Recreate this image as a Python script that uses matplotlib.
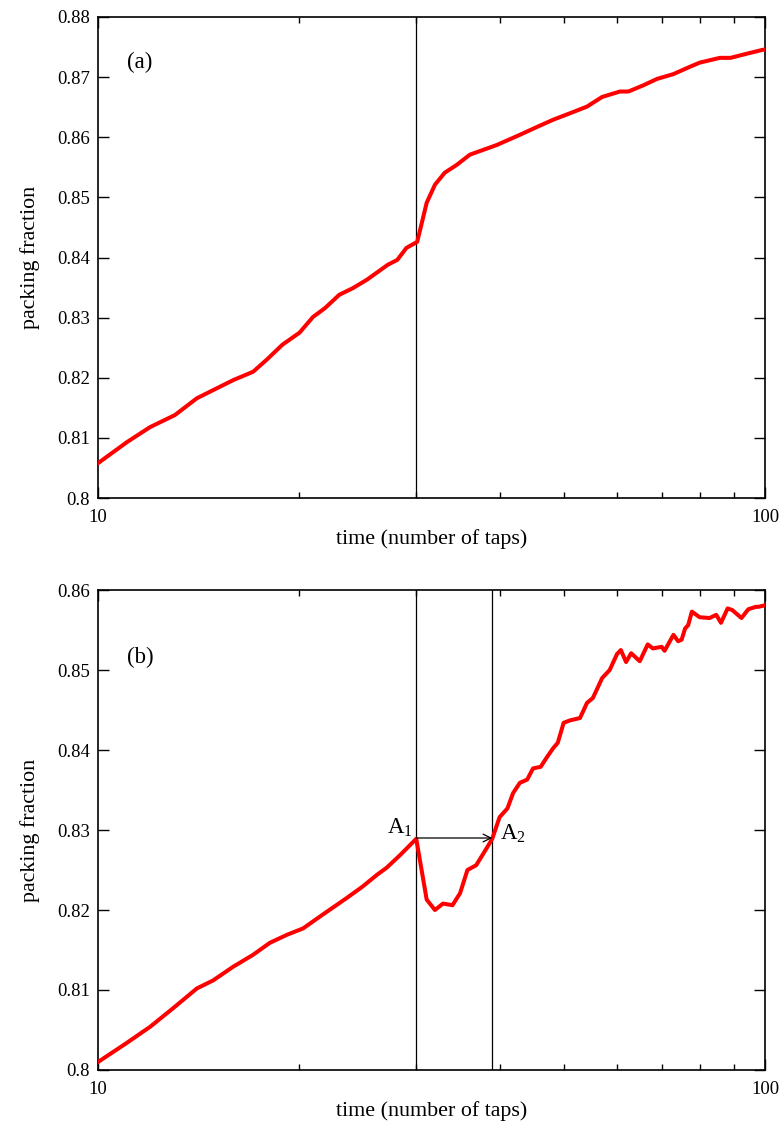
import matplotlib
matplotlib.use("Agg")
import matplotlib.pyplot as plt
from matplotlib.ticker import FixedLocator, NullFormatter, FuncFormatter

plt.rcParams["font.family"] = ["Liberation Serif", "DejaVu Serif"]
plt.rcParams["mathtext.fontset"] = "custom"
plt.rcParams["mathtext.rm"] = "Liberation Serif"
plt.rcParams["mathtext.it"] = "Liberation Serif:italic"

# panel (a): packing fraction vs taps
t_a = [10.0, 11.05, 11.97, 13.04, 14.07, 15.94, 17.08, 17.9, 18.9, 20.05,
       21.0, 21.9, 23.0, 24.1, 25.3, 26.5, 27.2, 28.1, 29.0, 30.1,
       31.1, 32.0, 33.1, 34.5, 36.1, 39.6, 42.9, 45.5, 48.1, 51.6,
       54.1, 57.0, 60.6, 62.4, 65.6, 68.9, 72.9, 77.1, 79.8, 85.6,
       88.8, 94.0, 98.9, 100.0]
phi_a = [0.8058, 0.8093, 0.8118, 0.8138, 0.8166, 0.8196, 0.8210, 0.8230, 0.8255, 0.8275,
         0.8301, 0.8316, 0.8338, 0.8349, 0.8363, 0.8379, 0.8388, 0.8396, 0.8416, 0.8426,
         0.8491, 0.8521, 0.8541, 0.8554, 0.8571, 0.8587, 0.8604, 0.8617, 0.8629, 0.8642,
         0.8651, 0.8667, 0.8676, 0.8676, 0.8686, 0.8697, 0.8705, 0.8717, 0.8724, 0.8732,
         0.8732, 0.8739, 0.8745, 0.8746]

# panel (b)
t_b = [10.0, 11.05, 11.97, 12.95, 14.07, 14.88, 15.94, 17.08, 18.1, 19.2,
       20.3, 21.7, 23.6, 24.9, 26.2, 27.1, 28.4, 30.0, 31.1, 32.0,
       32.9, 34.0, 34.9, 35.8, 36.9, 38.3, 39.0, 40.0, 41.1, 41.9,
       42.9, 44.0, 44.9, 46.1, 47.1, 48.1, 48.9, 49.9, 51.0, 52.8,
       54.1, 55.2, 57.0, 58.5, 60.0, 60.8, 61.9, 63.0, 64.9, 66.7,
       67.9, 70.0, 70.7, 72.9, 74.1, 75.0, 75.9, 76.7, 77.7, 79.8,
       82.6, 84.5, 85.9, 87.9, 89.3, 92.2, 94.4, 96.9, 97.8, 100.0]
phi_b = [0.8010, 0.8034, 0.8054, 0.8077, 0.8102, 0.8112, 0.8129, 0.8144, 0.8159, 0.8169,
         0.8177, 0.8194, 0.8215, 0.8229, 0.8244, 0.8253, 0.8269, 0.8289, 0.8213, 0.8200,
         0.8208, 0.8206, 0.8221, 0.8250, 0.8256, 0.8278, 0.8289, 0.8316, 0.8327, 0.8346,
         0.8359, 0.8363, 0.8377, 0.8379, 0.8391, 0.8402, 0.8409, 0.8434, 0.8437, 0.8440,
         0.8459, 0.8465, 0.8490, 0.8500, 0.8520, 0.8525, 0.8510, 0.8521, 0.8511, 0.8532,
         0.8527, 0.8529, 0.8524, 0.8544, 0.8536, 0.8538, 0.8552, 0.8556, 0.8573, 0.8566,
         0.8565, 0.8569, 0.8559, 0.8577, 0.8575, 0.8565, 0.8576, 0.8579, 0.8579, 0.8581]

vlines_a = [30]
vlines_b = [30, 39]
a1_level = 0.829

yticks_a = [0.80, 0.81, 0.82, 0.83, 0.84, 0.85, 0.86, 0.87, 0.88]
yticks_b = [0.80, 0.81, 0.82, 0.83, 0.84, 0.85, 0.86]

fig = plt.figure(figsize=(7.81, 11.23), dpi=100)
ax_a = fig.add_axes([0.1255, 0.5565, 0.854, 0.4284])
ax_b = fig.add_axes([0.1255, 0.0472, 0.854, 0.4274])


def style(ax, yticks):
    ax.set_xscale("log")
    ax.set_xlim(10, 100)
    ax.set_ylim(yticks[0], yticks[-1])
    ax.set_yticks(yticks)
    ax.yaxis.set_major_formatter(FuncFormatter(lambda v, p: f"{v:g}"))
    ax.xaxis.set_major_locator(FixedLocator([10, 100]))
    ax.xaxis.set_major_formatter(FuncFormatter(lambda v, p: f"{v:g}"))
    ax.xaxis.set_minor_locator(FixedLocator(range(20, 100, 10)))
    ax.xaxis.set_minor_formatter(NullFormatter())
    ax.tick_params(axis="both", which="major", direction="in", top=True, right=True,
                   length=8, width=1.0, labelsize=13.5, pad=6)
    ax.tick_params(axis="x", which="major", pad=8)
    ax.tick_params(axis="x", which="minor", direction="in", top=True,
                   length=4.5, width=1.0)
    for s in ax.spines.values():
        s.set_linewidth(1.2)
    ax.set_xlabel("time (number of taps)", fontsize=15.8, labelpad=2)
    ax.set_ylabel("packing fraction", fontsize=15.8, labelpad=12)


style(ax_a, yticks_a)
ax_a.plot(t_a, phi_a, color="#ff0000", lw=2.9, zorder=3)
for v in vlines_a:
    ax_a.axvline(v, color="black", lw=0.9, zorder=2)
ax_a.text(0.044, 0.905, "(a)", transform=ax_a.transAxes, fontsize=16.5, va="center")

style(ax_b, yticks_b)
ax_b.plot(t_b, phi_b, color="#ff0000", lw=2.9, zorder=3)
for v in vlines_b:
    ax_b.axvline(v, color="black", lw=0.9, zorder=2)
ax_b.annotate("", xy=(vlines_b[1], a1_level), xytext=(vlines_b[0], a1_level),
              arrowprops=dict(arrowstyle="->", color="black", lw=0.9,
                              shrinkA=0, shrinkB=0, mutation_scale=14))
ax_b.text(29.6, a1_level - 0.0001, r"$\mathrm{A}_1$", fontsize=16.5,
          ha="right", va="bottom")
ax_b.text(40.0, a1_level - 0.0009, r"$\mathrm{A}_2$", fontsize=16.5,
          ha="left", va="bottom")
ax_b.text(0.044, 0.86, "(b)", transform=ax_b.transAxes, fontsize=16.5, va="center")

fig.savefig("out.png", dpi=100)
